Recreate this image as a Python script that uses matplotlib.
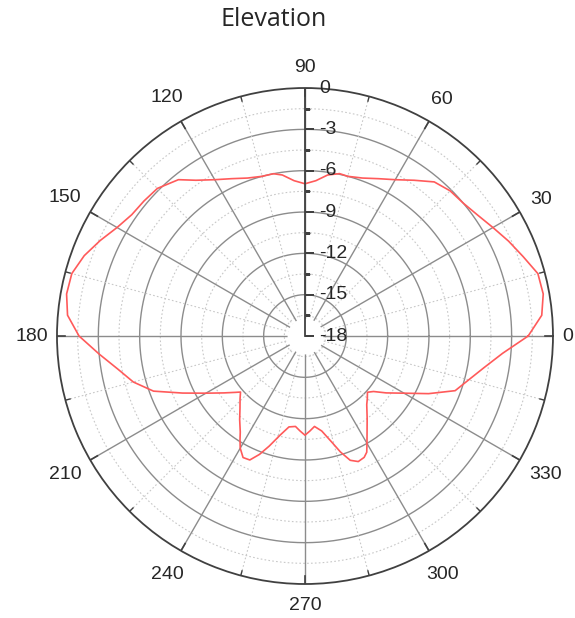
import numpy as np
import matplotlib.pyplot as plt

# -------------------------
# DATA
# -------------------------
angle_deg = [0, 5, 10, 15, 20, 25, 30, 35, 40, 45, 50, 55, 60, 65, 70, 75, 78, 82, 86,
             90, 94, 98, 101, 105, 110, 115, 120, 125, 129, 135, 140, 145, 150, 155,
             160, 165, 170, 175, 180, 185, 190, 195, 200, 205, 210, 215, 219, 221,
             224, 228, 232, 236, 238, 240, 243, 246, 249, 252, 256, 260, 264, 267, 270,
             273, 276, 280, 284, 287, 290, 293, 296, 298, 300, 302, 307, 312, 315, 318,
             321, 325, 330, 335, 340, 345, 350, 355, 360]
gain_db = [-1.8, -0.75, -0.44, -0.5, -1.15, -1.7, -2.25, -2.7, -3.0, -3.1, -3.4, -4.2,
           -4.9, -5.4, -5.8, -6.0, -5.95, -6.2, -6.7, -6.95, -6.7, -6.2, -6.0, -6.0,
           -5.8, -5.4, -4.9, -4.2, -3.4, -2.85, -2.75, -2.65, -2.25, -1.6, -0.95,
           -0.48, -0.43, -0.7, -1.6, -3.0, -4.2, -5.1, -6.3, -8.2, -9.7, -10.8,
           -11.5, -11.8, -11.45, -10.95, -10.3, -9.6, -9.1, -8.6, -8.1, -8.15, -8.8,
           -9.6, -10.6, -11.3, -11.4, -11.1, -10.8, -11.1, -11.4, -11.0, -10.1, -9.2,
           -8.4, -8.1, -8.2, -8.45, -9.0, -9.5, -10.5, -11.3, -11.6, -11.9, -11.6,
           -10.8, -9.7, -8.1, -6.4, -5.7, -4.8, -3.6, -1.8]

angle_ticks = list(range(0, 360, 30))
r_ticks = [0, -3, -6, -9, -12, -15, -18]
r_minor = [-1.5, -4.5, -7.5, -10.5, -13.5, -16.5]

GRID = "#8c8c8c"
MINOR = "#c8c8c8"
DARK = "#404040"
TXT = "#262626"

fig = plt.figure(figsize=(5.75, 6.18), dpi=100)
ax = fig.add_axes([0.0991, 0.055, 0.8626, 0.8026], projection="polar")
ax.set_ylim(-18, 0)
ax.set_xticks([])
ax.set_yticks([])
ax.grid(False)
ax.spines["polar"].set_color(DARK)
ax.spines["polar"].set_linewidth(1.3)

# pixels per dB (axes radius is 248 px for 18 dB)
px_per_db = 0.8626 * 575 / 2 / 18

th = np.linspace(0, 2 * np.pi, 721)

# circles
for v in r_ticks[1:-1]:
    ax.plot(th, np.full_like(th, v), color=GRID, lw=1.0, zorder=1)
for v in r_minor:
    ax.plot(th, np.full_like(th, v), color=MINOR, lw=0.8, ls=(0, (1.5, 2)), zorder=1)

# spokes
for a in angle_ticks:
    ax.plot([np.deg2rad(a)] * 2, [-18, 0], color=GRID, lw=1.0, zorder=1)
for a in range(15, 360, 30):
    ax.plot([np.deg2rad(a)] * 2, [-18, 0], color=MINOR, lw=0.8, ls=(0, (1.5, 2)), zorder=1)

# white hole in the middle
ax.fill_between(th, -18, -16.7, color="white", lw=0, zorder=2)

# outer ticks
for a in angle_ticks:
    ax.plot([np.deg2rad(a)] * 2, [-0.6, 0], color=DARK, lw=1.2, zorder=4)
for a in range(15, 360, 30):
    ax.plot([np.deg2rad(a)] * 2, [-0.35, 0], color=DARK, lw=1.0, zorder=4)

# pattern
ax.plot(np.deg2rad(angle_deg), gain_db, color="#ff5a5a", lw=1.2, zorder=3)

# radial axis at 90 deg
ax.plot([np.pi / 2] * 2, [-18, 0], color=DARK, lw=1.3, zorder=4)
ax.plot([np.pi / 2] * len(r_ticks), r_ticks, ls="none", marker=1, ms=6.5, mew=1.2,
        color=DARK, zorder=4)
ax.plot([np.pi / 2] * len(r_minor), r_minor, ls="none", marker=1, ms=3.5, mew=1.0,
        color=DARK, zorder=4)

for v in r_ticks:
    ax.annotate(str(v), xy=(np.pi / 2, v), xytext=(10, 0), textcoords="offset points",
                ha="left", va="center", fontsize=14, family="Liberation Sans", color=TXT)

# angle labels: centre sits a gap plus half the text extent outside the circle
for a in angle_ticks:
    s = str(a)
    t = np.deg2rad(a)
    half_w = 5.5 * len(s)
    half_h = 7
    off = 9 + 5 * abs(np.sin(t)) + half_w * abs(np.cos(t)) + half_h * abs(np.sin(t))
    ax.text(t, off / px_per_db, s, ha="center", va="center", fontsize=14,
            family="Liberation Sans", color=TXT, clip_on=False)

fig.text(0.4757, 0.968, "Elevation", ha="center", va="center", fontsize=18,
         family="Open Sans", color=TXT)

fig.savefig("out.png", dpi=100)
